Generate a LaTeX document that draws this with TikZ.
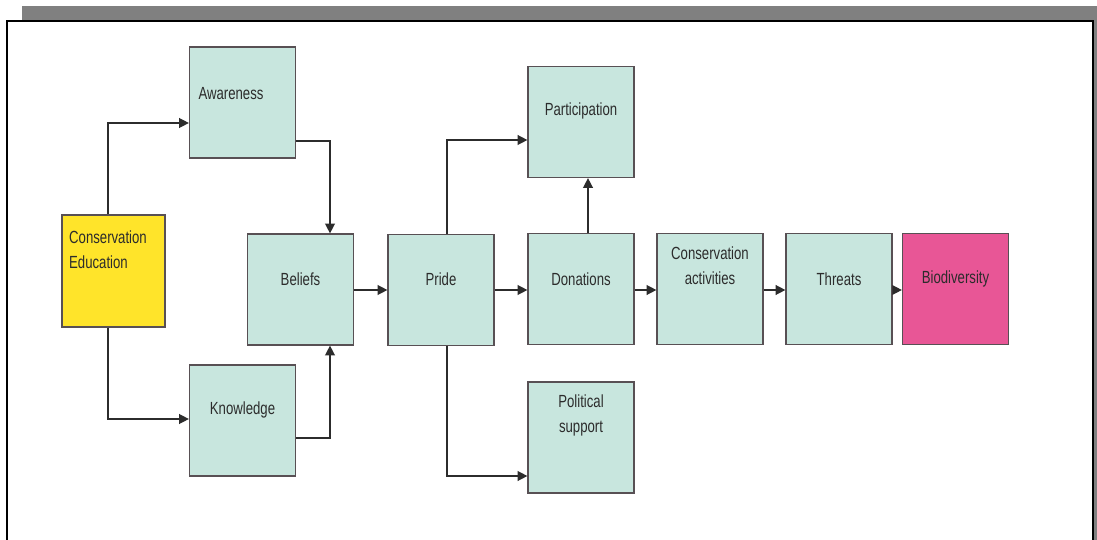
\documentclass[tikz,border=0pt]{standalone}
\usepackage{fontspec}
\setmainfont{Liberation Sans}[FakeStretch=0.75]
\usetikzlibrary{arrows.meta}

\definecolor{boxteal}{RGB}{200,230,222}
\definecolor{boxyellow}{RGB}{255,228,42}
\definecolor{boxpink}{RGB}{232,86,150}
\definecolor{boxline}{RGB}{88,80,84}
\definecolor{barGray}{RGB}{128,128,128}
\definecolor{inkGray}{RGB}{44,44,44}

\begin{document}
\begin{tikzpicture}[x=0.02cm, y=-0.02cm,
    box/.style={draw=boxline, line width=0.7pt, fill=boxteal, minimum width=2.12cm, minimum height=2.22cm, inner sep=0pt},
    lbl/.style={font=\fontsize{10}{14}\selectfont, text=inkGray, align=center, inner sep=0pt},
    arr/.style={draw=inkGray, line width=0.8pt, -{Triangle[length=5.5pt, width=5.5pt]}}]
            \useasboundingbox (0,0) rectangle (1097,540);
            % page frame
            \fill[barGray] (22,6) rectangle (1097,20);
            \fill[barGray] (1094,20) rectangle (1097,540);
            \draw[line width=0.9pt] (7,540) -- (7,21) -- (1093,21) -- (1093,540);
            % boxes
            \node[box, fill=boxyellow, minimum width=2.06cm, minimum height=2.24cm,
                  label={[lbl, align=left, xshift=-0.11cm, yshift=0.43cm]center:Conservation\\Education}] (educ) at (113.5,271) {};
            \node[box, label={[lbl, xshift=-0.23cm, yshift=0.17cm]center:Awareness}] (aware) at (242.5,102.5) {};
            \node[box, label={[lbl, yshift=0.21cm]center:Knowledge}] (know) at (242.5,420.5) {};
            \node[box, label={[lbl, yshift=0.2cm]center:Beliefs}] (beliefs) at (300.5,289.5) {};
            \node[box, label={[lbl, yshift=0.22cm]center:Pride}] (pride) at (441,290) {};
            \node[box, label={[lbl, yshift=0.22cm]center:Participation}] (partic) at (581,122) {};
            \node[box, label={[lbl, yshift=0.2cm]center:Donations}] (donat) at (581,289) {};
            \node[box, label={[lbl, yshift=0.44cm]center:Political\\support}] (polit) at (581,437.5) {};
            \node[box, label={[lbl, yshift=0.46cm]center:Conservation\\activities}] (consact) at (710,289) {};
            \node[box, label={[lbl, yshift=0.2cm]center:Threats}] (threats) at (839,289) {};
            \node[box, fill=boxpink, label={[lbl, yshift=0.2cm]center:Biodiversity}] (biodiv) at (955.5,289) {};
            % connectors
            \draw[arr] (educ.north -| 108,0) |- (aware.west |- 0,123);
            \draw[arr] (educ.south -| 108,0) |- (know.west |- 0,419);
            \draw[arr] (aware.east |- 0,141) -| (beliefs.north -| 330,0);
            \draw[arr] (know.east |- 0,438) -| (beliefs.south -| 330,0);
            \draw[arr] (beliefs.east |- 0,290) -- (pride.west |- 0,290);
            \draw[arr] (pride.north -| 447,0) |- (partic.west |- 0,140);
            \draw[arr] (pride.south -| 447,0) |- (polit.west |- 0,476);
            \draw[arr] (pride.east |- 0,290) -- (donat.west |- 0,290);
            \draw[arr] (donat.north -| 588,0) -- (partic.south -| 588,0);
            \draw[arr] (donat.east |- 0,290) -- (consact.west |- 0,290);
            \draw[arr] (consact.east |- 0,290) -- (threats.west |- 0,290);
            \draw[arr] (threats.east |- 0,290) -- (biodiv.west |- 0,290);
        \end{tikzpicture}
\end{document}
